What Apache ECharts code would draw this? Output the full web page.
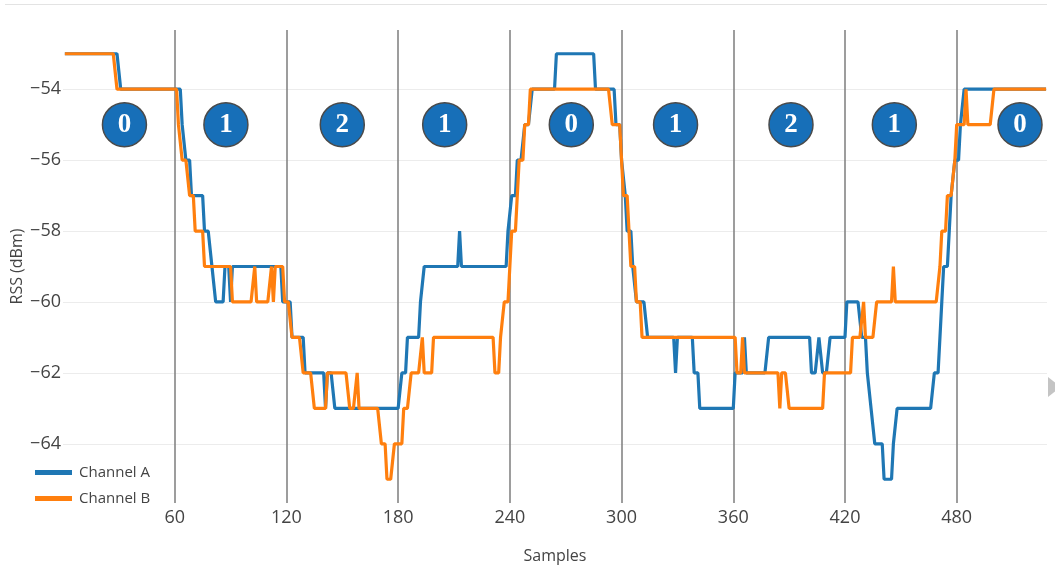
<!DOCTYPE html>
<html>
<head>
<meta charset="utf-8">
<title>RSS per channel</title>
<script src="https://cdn.jsdelivr.net/npm/echarts@6/dist/echarts.min.js"></script>
<style>
  html, body { margin: 0; padding: 0; background: #ffffff; }
  #chart { width: 1055px; height: 565px; }
</style>
</head>
<body>
<div id="chart"></div>
<script>
// RSS readings, stored as runs: [level in dBm, last sample index of the run].
// Runs start at sample 1 and each continues until its last index.
const firstSample = 1;

const channelARuns = [
  [-53, 30], [-54, 63], [-55, 65], [-56, 68], [-57, 75], [-58, 79], [-59, 81],
  [-60, 86], [-59, 89], [-60, 90], [-59, 117], [-60, 122], [-61, 129], [-62, 140],
  [-63, 141], [-62, 145], [-63, 181], [-62, 184], [-61, 191], [-60, 193], [-59, 212],
  [-58, 213], [-59, 238], [-58, 240], [-57, 243], [-56, 247], [-55, 251], [-54, 264],
  [-53, 285], [-54, 296], [-55, 299], [-56, 301], [-57, 302], [-58, 305], [-59, 307],
  [-60, 313], [-61, 328], [-62, 329], [-61, 338], [-62, 341], [-63, 360], [-62, 365],
  [-61, 366], [-62, 378], [-61, 401], [-62, 405], [-61, 407], [-62, 411], [-61, 420],
  [-60, 428], [-61, 431], [-62, 433], [-63, 435], [-64, 440], [-65, 445], [-64, 447],
  [-63, 467], [-62, 470], [-61, 471], [-60, 472], [-59, 475], [-58, 476], [-57, 478],
  [-56, 481], [-55, 483], [-54, 528]
];

const channelBRuns = [
  [-53, 28], [-54, 61], [-55, 63], [-56, 67], [-57, 70], [-58, 75], [-59, 90],
  [-60, 102], [-59, 103], [-60, 111], [-59, 112], [-60, 113], [-59, 118], [-60, 122],
  [-61, 128], [-62, 134], [-63, 141], [-62, 153], [-63, 157], [-62, 158], [-63, 170],
  [-64, 173], [-65, 177], [-64, 182], [-63, 186], [-62, 192], [-61, 193], [-62, 198],
  [-61, 231], [-62, 234], [-61, 236], [-60, 239], [-59, 240], [-58, 243], [-57, 244],
  [-56, 247], [-55, 250], [-54, 294], [-55, 299], [-56, 300], [-57, 303], [-58, 304],
  [-59, 307], [-60, 310], [-61, 361], [-62, 364], [-61, 365], [-62, 384], [-63, 385],
  [-62, 389], [-63, 408], [-62, 423], [-61, 429], [-60, 430], [-61, 436], [-60, 445],
  [-59, 446], [-60, 470], [-59, 471], [-58, 474], [-57, 478], [-56, 479], [-55, 484],
  [-54, 485], [-55, 499], [-54, 528]
];

// Zone markers (number of people in the room) placed over each segment.
const zoneSamples = [33, 87.5, 150, 205, 273, 329, 391, 446.5, 514];
const zoneLabels = ['0', '1', '2', '1', '0', '1', '2', '1', '0'];
const zoneLevel = -55;

const seriesNames = ['Channel A', 'Channel B'];
const xRange = [0, 528.5];
const xTickStep = 60;
const yRange = [-65.67, -52.33];
const yTickStep = 2;

function expandRuns(runs) {
  const pts = [];
  let s = firstSample;
  for (const [level, last] of runs) {
    for (; s <= last; s++) pts.push([s, level]);
  }
  return pts;
}

const minus = v => String(v).replace('-', '\u2212');
const font = '"Open Sans", "DejaVu Sans", sans-serif';

const chart = echarts.init(document.getElementById('chart'), null, { renderer: 'canvas' });

chart.setOption({
  animation: false,
  backgroundColor: '#ffffff',
  textStyle: { fontFamily: font },
  grid: { left: 63, right: 8, top: 30, bottom: 62, containLabel: false, outerBoundsMode: 'none' },
  legend: {
    data: seriesNames,
    orient: 'vertical',
    left: 35,
    top: 465,
    padding: 0,
    icon: 'rect',
    itemWidth: 37,
    itemHeight: 5,
    itemGap: 11,
    textStyle: { fontFamily: font, fontSize: 15, color: '#444', padding: [0, 0, 0, 2] }
  },
  xAxis: {
    type: 'value',
    min: xRange[0],
    max: xRange[1],
    interval: xTickStep,
    name: 'Samples',
    nameLocation: 'middle',
    nameGap: 45,
    nameTextStyle: { fontFamily: font, fontSize: 16, color: '#444' },
    axisLine: { show: false },
    axisTick: { show: false },
    axisLabel: {
      showMinLabel: false,
      showMaxLabel: false,
      margin: 6,
      fontFamily: font,
      fontSize: 18,
      color: '#444'
    },
    splitLine: {
      show: true,
      showMinLine: false,
      showMaxLine: false,
      lineStyle: { color: '#858585', width: 1.6 }
    }
  },
  yAxis: {
    type: 'value',
    min: yRange[0],
    max: yRange[1],
    minInterval: yTickStep,
    maxInterval: yTickStep,
    splitNumber: 6,
    name: 'RSS (dBm)',
    nameLocation: 'middle',
    nameGap: 38,
    nameMoveOverlap: false,
    nameTextStyle: { fontFamily: font, fontSize: 16, color: '#444' },
    axisLine: { show: false },
    axisTick: { show: false },
    axisLabel: {
      showMinLabel: false,
      showMaxLabel: false,
      margin: 2,
      padding: [5, 0, 0, 0],
      fontFamily: font,
      fontSize: 18,
      color: '#444',
      formatter: minus
    },
    splitLine: {
      show: true,
      showMinLine: false,
      showMaxLine: false,
      lineStyle: { color: '#ececec', width: 1 }
    }
  },
  series: [
    {
      name: seriesNames[0],
      type: 'line',
      data: expandRuns(channelARuns),
      showSymbol: false,
      symbol: 'none',
      color: '#1f77b4',
      lineStyle: { width: 3.2, color: '#1f77b4' },
      z: 3
    },
    {
      name: seriesNames[1],
      type: 'line',
      data: expandRuns(channelBRuns),
      showSymbol: false,
      symbol: 'none',
      color: '#ff7f0e',
      lineStyle: { width: 3.2, color: '#ff7f0e' },
      z: 4
    },
    {
      name: 'zones',
      type: 'scatter',
      data: zoneSamples.map((s, i) => ({ value: [s, zoneLevel], label: { formatter: zoneLabels[i] } })),
      symbol: 'circle',
      symbolSize: 44,
      silent: true,
      itemStyle: { color: '#176fb8', borderColor: '#4a4a4a', borderWidth: 1.5, opacity: 1 },
      label: {
        show: true,
        position: 'inside',
        fontFamily: '"Liberation Serif", "DejaVu Serif", serif',
        fontWeight: 'bold',
        fontSize: 27,
        color: '#ffffff'
      },
      z: 5
    }
  ],
  graphic: [
    {
      type: 'line',
      shape: { x1: 5, y1: 4.5, x2: 1047, y2: 4.5 },
      style: { stroke: '#e3e3e3', lineWidth: 1.2 },
      silent: true
    },
    {
      type: 'polygon',
      shape: { points: [[1048, 377], [1061, 387], [1048, 397]] },
      style: { fill: '#c4c4c4' },
      silent: true
    }
  ]
});
</script>
</body>
</html>
